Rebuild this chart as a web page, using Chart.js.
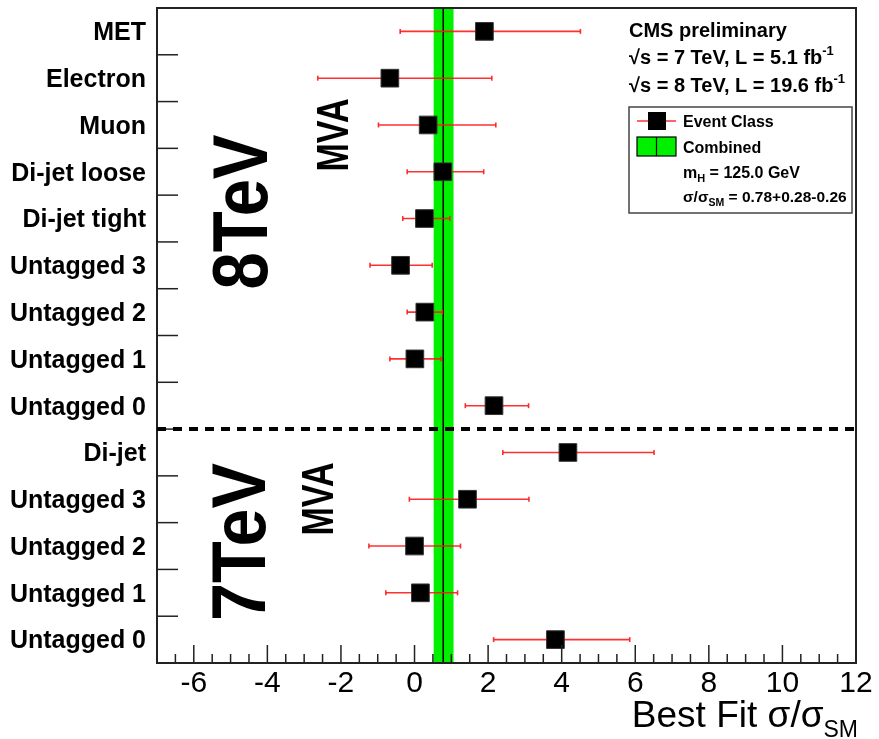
<!DOCTYPE html>
<html>
<head>
<meta charset="utf-8">
<script src="https://cdn.jsdelivr.net/npm/chart.js@4.4.1/dist/chart.umd.min.js"></script>
<style>
  html, body { margin: 0; padding: 0; background: #fff; }
  canvas { display: block; }
</style>
</head>
<body>
<canvas id="fitChart" width="879" height="739"></canvas>
<script>
// event classes, 8 TeV first then 7 TeV
const rowLabels = ['MET', 'Electron', 'Muon', 'Di-jet loose', 'Di-jet tight', 'Untagged 3', 'Untagged 2', 'Untagged 1', 'Untagged 0',
                   'Di-jet', 'Untagged 3', 'Untagged 2', 'Untagged 1', 'Untagged 0'];
const bestFit = [1.90, -0.67, 0.37, 0.77, 0.27, -0.38, 0.28, 0.01, 2.16, 4.17, 1.44, 0.00, 0.16, 3.83];
const errLow  = [-0.39, -2.63, -0.98, -0.20, -0.32, -1.21, -0.20, -0.67, 1.38, 2.40, -0.14, -1.24, -0.78, 2.15];
const errHigh = [4.51, 2.10, 2.21, 1.88, 0.96, 0.48, 0.76, 0.72, 3.10, 6.51, 3.11, 1.25, 1.17, 5.85];
const nRows8TeV = 9;

// combined fit
const combinedFit = 0.78;
const combinedUp = 0.28;
const combinedDown = 0.26;
const higgsMass = '125.0';

const xMin = -7;
const xMax = 12;

const FONT = '"Liberation Sans", Arial, Helvetica, sans-serif';
const GREEN = '#00f000';
const RED = 'rgba(255, 25, 25, 0.9)';

// draws a run of text pieces (with sub/superscripts), left or right aligned
function richText(ctx, x, y, parts, align) {
  let total = 0;
  parts.forEach(p => {
    ctx.font = `${p.bold ? 'bold ' : ''}${p.size}px ${FONT}`;
    p.w = ctx.measureText(p.text).width;
    total += p.w;
  });
  let cx = align === 'right' ? x - total : x;
  ctx.textAlign = 'left';
  ctx.textBaseline = 'alphabetic';
  parts.forEach(p => {
    ctx.font = `${p.bold ? 'bold ' : ''}${p.size}px ${FONT}`;
    ctx.fillText(p.text, cx, y + (p.dy || 0));
    cx += p.w;
  });
}

// big rotated labels, squeezed to a given length
function verticalText(ctx, text, cx, cy, size, length) {
  ctx.save();
  ctx.translate(cx, cy);
  ctx.rotate(-Math.PI / 2);
  ctx.font = `bold ${size}px ${FONT}`;
  const w = ctx.measureText(text).width;
  ctx.scale(length / w, 1);
  ctx.textAlign = 'center';
  ctx.textBaseline = 'alphabetic';
  ctx.fillStyle = '#000';
  ctx.fillText(text, 0, size * 0.358);
  ctx.restore();
}

function seg(ctx, x0, y0, x1, y1) {
  ctx.beginPath();
  ctx.moveTo(x0, y0);
  ctx.lineTo(x1, y1);
  ctx.stroke();
}

const overlays = {
  id: 'overlays',
  beforeDatasetsDraw(chart) {
    const { ctx, chartArea: a, scales: { x, y } } = chart;
    ctx.save();

    // combined band and central value
    const b0 = x.getPixelForValue(combinedFit - combinedDown);
    const b1 = x.getPixelForValue(combinedFit + combinedUp);
    ctx.fillStyle = GREEN;
    ctx.fillRect(b0, a.top, b1 - b0, a.bottom - a.top);
    ctx.strokeStyle = '#000';
    ctx.lineWidth = 1.5;
    const xc = x.getPixelForValue(combinedFit);
    seg(ctx, xc, a.top, xc, a.bottom);

    // horizontal error bars
    ctx.strokeStyle = RED;
    ctx.lineWidth = 1.6;
    rowLabels.forEach((_, i) => {
      const py = y.getPixelForValue(i);
      const lo = x.getPixelForValue(errLow[i]);
      const hi = x.getPixelForValue(errHigh[i]);
      seg(ctx, lo, py, hi, py);
      seg(ctx, lo, py - 2.5, lo, py + 2.5);
      seg(ctx, hi, py - 2.5, hi, py + 2.5);
    });
    ctx.restore();
  },
  afterDatasetsDraw(chart) {
    const { ctx, chartArea: a, scales: { x, y } } = chart;
    ctx.save();

    // frame
    ctx.strokeStyle = '#222';
    ctx.lineWidth = 2;
    ctx.strokeRect(a.left, a.top, a.right - a.left, a.bottom - a.top);

    // x tick marks, major every 2, minor every 0.5
    ctx.lineWidth = 1.5;
    for (let v = xMin + 0.5; v < xMax; v += 0.5) {
      const px = x.getPixelForValue(v);
      const len = v % 2 === 0 ? 18 : 9;
      seg(ctx, px, a.bottom, px, a.bottom - len);
    }

    // y tick marks between the rows
    for (let i = 0; i < rowLabels.length - 1; i++) {
      const py = (y.getPixelForValue(i) + y.getPixelForValue(i + 1)) / 2;
      seg(ctx, a.left, py, a.left + 21, py);
    }

    // 8 TeV / 7 TeV divider
    const yd = (y.getPixelForValue(nRows8TeV - 1) + y.getPixelForValue(nRows8TeV)) / 2;
    ctx.strokeStyle = '#000';
    ctx.lineWidth = 4;
    ctx.setLineDash([9, 7]);
    seg(ctx, a.left, yd, a.right, yd);
    ctx.setLineDash([]);

    verticalText(ctx, '8TeV', 239, 212, 78, 155);
    verticalText(ctx, 'MVA', 332, 135, 44, 73);
    verticalText(ctx, '7TeV', 238, 542, 76, 158);
    verticalText(ctx, 'MVA', 317, 499, 44, 73);

    // header text
    ctx.fillStyle = '#000';
    richText(ctx, 629, 37, [{ text: 'CMS preliminary', size: 20, bold: true }]);
    richText(ctx, 629, 64, [{ text: '\u221As = 7 TeV, L = 5.1 fb', size: 20, bold: true },
                            { text: '-1', size: 13, bold: true, dy: -9 }]);
    richText(ctx, 629, 92, [{ text: '\u221As = 8 TeV, L = 19.6 fb', size: 20, bold: true },
                            { text: '-1', size: 13, bold: true, dy: -9 }]);

    // legend box
    ctx.strokeStyle = '#444';
    ctx.lineWidth = 1.5;
    ctx.strokeRect(629, 107, 223, 106);

    ctx.strokeStyle = RED;
    ctx.lineWidth = 1.5;
    seg(ctx, 637, 121, 676, 121);
    ctx.fillStyle = '#000';
    ctx.fillRect(648, 112, 18, 18);

    ctx.fillStyle = GREEN;
    ctx.fillRect(637, 137, 39, 19);
    ctx.strokeStyle = '#000';
    ctx.lineWidth = 1.2;
    ctx.strokeRect(637, 137, 39, 19);
    seg(ctx, 656.5, 137, 656.5, 156);

    ctx.fillStyle = '#000';
    richText(ctx, 683, 127, [{ text: 'Event Class', size: 16, bold: true }]);
    richText(ctx, 683, 153, [{ text: 'Combined', size: 16, bold: true }]);
    richText(ctx, 683, 178, [{ text: 'm', size: 16, bold: true },
                             { text: 'H', size: 11, bold: true, dy: 4 },
                             { text: ' = ' + higgsMass + ' GeV', size: 16, bold: true }]);
    richText(ctx, 683, 202, [{ text: '\u03C3/\u03C3', size: 15.5, bold: true },
                             { text: 'SM', size: 10.5, bold: true, dy: 4 },
                             { text: ' = ' + combinedFit.toFixed(2) + '+' + combinedUp.toFixed(2) + '-' + combinedDown.toFixed(2), size: 15.5, bold: true }]);

    // x axis title
    richText(ctx, 858, 727, [{ text: 'Best Fit \u03C3/\u03C3', size: 37 },
                             { text: 'SM', size: 23, dy: 10 }], 'right');
    ctx.restore();
  }
};

new Chart(document.getElementById('fitChart'), {
  type: 'line',
  data: {
    labels: rowLabels,
    datasets: [{
      label: 'Event Class',
      data: bestFit,
      showLine: false,
      pointStyle: 'rect',
      pointRadius: 12.5,
      pointBackgroundColor: '#000',
      pointBorderColor: '#333',
      pointBorderWidth: 1
    }]
  },
  options: {
    indexAxis: 'y',
    responsive: false,
    animation: false,
    layout: { autoPadding: false, padding: { top: 8, right: 23, left: 0, bottom: 0 } },
    plugins: { legend: { display: false }, tooltip: { enabled: false } },
    scales: {
      x: {
        type: 'linear',
        min: xMin,
        max: xMax,
        grid: { display: false, drawTicks: false },
        border: { display: false },
        ticks: { stepSize: 2, includeBounds: false, padding: 3, color: '#000', font: { family: FONT, size: 30 } },
        afterFit: s => { s.height = 76; s.paddingLeft = 0; s.paddingRight = 0; }
      },
      y: {
        type: 'category',
        offset: true,
        grid: { display: false, drawTicks: false },
        border: { display: false },
        ticks: { padding: 11, labelOffset: 2, autoSkip: false, color: '#000', font: { family: FONT, size: 25, weight: 'bold' } },
        afterFit: s => { s.width = 157; s.paddingTop = 0; s.paddingBottom = 0; }
      }
    }
  },
  plugins: [overlays]
});
</script>
</body>
</html>
